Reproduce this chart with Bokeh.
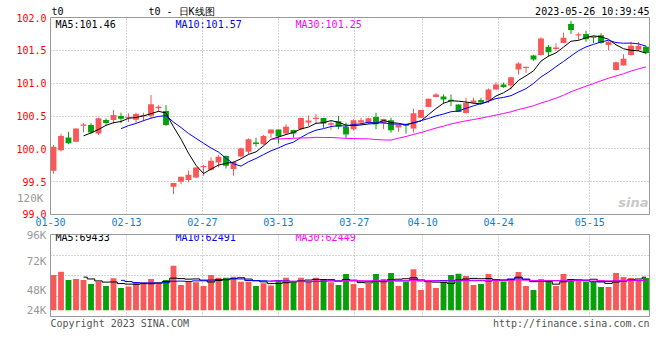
import numpy as np
import pandas as pd
from bokeh.plotting import figure
from bokeh.layouts import column
from bokeh.models import Range1d, FixedTicker, Label, ColumnDataSource, PrintfTickFormatter, LinearAxis
from bokeh.embed import file_html
from bokeh.resources import INLINE

# ---------------- data ----------------
tick_labels = ["01-30", "02-13", "02-27", "03-13", "03-27", "04-10", "04-24", "05-15"]
tick_index = [0, 10, 20, 30, 40, 49, 59, 71]

open_ = [99.667, 99.98, 100.171, 100.106, 100.36, 100.364, 100.232, 100.44, 100.44, 100.50,
         100.48, 100.444, 100.50, 100.505, 100.617, 100.576, 99.424, 99.50, 99.526, 99.565,
         99.72, 99.682, 99.79, 99.89, 99.692, 99.883, 99.955, 100.095, 100.07, 100.232,
         100.293, 100.232, 100.288, 100.298, 100.40, 100.455, 100.47, 100.368, 100.42, 100.338,
         100.298, 100.40, 100.40, 100.485, 100.384, 100.435, 100.323, 100.374, 100.308, 100.474,
         100.636, 100.788, 100.798, 100.747, 100.677, 100.545, 100.702, 100.742, 100.737, 100.904,
         100.98, 100.965, 101.207, 101.23, 101.42, 101.43, 101.555, 101.52, 101.61, 101.90,
         101.735, 101.75, 101.71, 101.73, 101.58, 101.20, 101.27, 101.43, 101.51, 101.555]
high = [100.06, 100.23, 100.26, 100.31, 100.39, 100.39, 100.474, 100.465, 100.59, 100.55,
        100.54, 100.55, 100.55, 100.82, 100.667, 100.667, 99.48, 99.576, 99.667, 99.72,
        99.757, 99.87, 99.905, 99.90, 99.81, 100.02, 100.16, 100.17, 100.21, 100.293,
        100.293, 100.374, 100.288, 100.47, 100.51, 100.53, 100.47, 100.42, 100.50, 100.40,
        100.45, 100.474, 100.474, 100.55, 100.455, 100.474, 100.37, 100.38, 100.61, 100.59,
        100.763, 100.848, 100.828, 100.828, 100.677, 100.778, 100.778, 100.778, 100.919, 101.015,
        101.01, 101.09, 101.32, 101.25, 101.43, 101.697, 101.58, 101.61, 101.77, 101.95,
        101.77, 101.80, 101.71, 101.76, 101.64, 101.33, 101.44, 101.63, 101.63, 101.57]
low = [99.62, 99.96, 100.07, 100.10, 100.25, 100.23, 100.208, 100.36, 100.383, 100.39,
       100.41, 100.40, 100.42, 100.46, 100.56, 100.35, 99.31, 99.46, 99.49, 99.556,
       99.59, 99.667, 99.717, 99.70, 99.59, 99.87, 99.92, 100.035, 100.06, 100.17,
       100.08, 100.22, 100.17, 100.283, 100.35, 100.38, 100.32, 100.29, 100.30, 100.156,
       100.28, 100.374, 100.374, 100.30, 100.30, 100.247, 100.26, 100.232, 100.247, 100.47,
       100.636, 100.788, 100.687, 100.65, 100.56, 100.535, 100.687, 100.672, 100.697, 100.904,
       100.93, 100.904, 101.13, 101.157, 101.34, 101.42, 101.40, 101.495, 101.61, 101.75,
       101.66, 101.63, 101.61, 101.60, 101.50, 101.19, 101.27, 101.42, 101.49, 101.44]
close = [100.03, 100.197, 100.086, 100.308, 100.37, 100.247, 100.465, 100.394, 100.515, 100.46,
         100.49, 100.53, 100.515, 100.68, 100.64, 100.364, 99.48, 99.576, 99.606, 99.717,
         99.74, 99.818, 99.88, 99.742, 99.80, 100.005, 100.147, 100.076, 100.197, 100.293,
         100.186, 100.338, 100.232, 100.47, 100.43, 100.475, 100.384, 100.39, 100.338, 100.22,
         100.435, 100.435, 100.465, 100.374, 100.455, 100.283, 100.364, 100.35, 100.54, 100.59,
         100.763, 100.828, 100.752, 100.727, 100.56, 100.697, 100.737, 100.707, 100.904, 100.98,
         100.94, 101.09, 101.30, 101.25, 101.36, 101.68, 101.47, 101.545, 101.69, 101.81,
         101.745, 101.67, 101.69, 101.61, 101.63, 101.32, 101.37, 101.57, 101.57, 101.46]
volume = [73830, 80730, 63480, 65550, 63480, 55200, 60030, 51060, 66930, 46920,
          49680, 57960, 57960, 65550, 56580, 63480, 93150, 53130, 60030, 58650,
          51060, 73830, 68310, 68310, 70380, 60030, 60030, 51060, 56580, 51750,
          61410, 68310, 58650, 68310, 60030, 68310, 65550, 58650, 53130, 75900,
          55200, 46920, 55200, 75900, 65550, 77970, 51060, 60030, 86250, 42780,
          58650, 46920, 58650, 73830, 76590, 71760, 53130, 55200, 75900, 65550,
          60030, 65550, 80040, 51060, 42780, 65550, 63480, 51060, 75900, 65550,
          63480, 60030, 60030, 48990, 48990, 77970, 69690, 67620, 63480, 67620]

title_text = "t0 - 日K线图"
symbol_text = "t0"
time_text = "2023-05-26 10:39:45"
price_ma_texts = ["MA5:101.46", "MA10:101.57", "MA30:101.25"]
vol_ma_texts = ["MA5:69433", "MA10:62491", "MA30:62449"]
price_ticks = [99.0, 99.5, 100.0, 100.5, 101.0, 101.5, 102.0]
vol_tick_labels = ["96K", "72K", "48K", "24K"]
vol_extra_label = "120K"
copyright_text = "Copyright 2023 SINA.COM"
url_text = "http://finance.sina.com.cn"

# ---------------- styling ----------------
RED = "#f95858"
GREEN = "#08a008"
MA_COLORS = ["#000000", "#0000ff", "#ff00ff"]
GRID = "#a8a8a8"
MONO = "DejaVu Sans Mono"

n = len(close)
xs = np.arange(n)
o = np.array(open_); c = np.array(close); h = np.array(high); lo = np.array(low)
up = c >= o
colors = np.where(up, RED, GREEN)
btop = np.maximum(o, c)
bbot = np.minimum(np.minimum(o, c), btop - 0.02)
cs = pd.Series(c)
vs = pd.Series(np.array(volume, dtype=float))

src = ColumnDataSource(dict(
    x=xs, top=btop, bottom=bbot, high=h, low=lo, color=colors,
    ma5=cs.rolling(5).mean().values, ma10=cs.rolling(10).mean().values, ma30=cs.rolling(30).mean().values,
    vol=vs.values, vma5=vs.rolling(5).mean().values, vma10=vs.rolling(10).mean().values,
    vma30=vs.rolling(30).mean().values,
))

# frame geometry: 599 px wide frame, one slot = 7.5 px
FRAME_L, FRAME_W = 50, 599
X0 = -0.4
PX = 7.5
x_range = Range1d(X0, X0 + FRAME_W / PX)
def px_to_x(px):
    return round(X0 + (px - FRAME_L) / PX, 3)

# date grid is spread over the frame with (n-1) spacing, as in the source chart
xt = [round(i * n / (n - 1) + X0, 3) for i in tick_index]

WIDTH = 652
common = dict(width=WIDTH, output_backend="svg", toolbar_location=None,
              min_border_left=FRAME_L, min_border_right=WIDTH - FRAME_L - FRAME_W,
              background_fill_color="white", border_fill_color="white")

def plain_axis(ax):
    ax.axis_line_color = None
    ax.major_tick_out = 0
    ax.major_tick_in = 0
    ax.minor_tick_out = 0
    ax.minor_tick_in = 0

def dotted(p):
    for g in (p.xgrid, p.ygrid):
        g.grid_line_color = GRID
        g.grid_line_dash = "1 2"
        g.grid_line_width = 1

def lab(p, x, y, text, color="#000000", font=MONO, size="10px", align="left", style="normal"):
    p.add_layout(Label(x=x, y=y, x_units="screen", y_units="screen", text=text,
                       text_color=color, text_font=font, text_font_size=size,
                       text_align=align, text_baseline="middle", text_font_style=style))

# ---------------- price panel ----------------
p1 = figure(height=228, x_range=x_range, y_range=Range1d(98.9999, 102.0001),
            min_border_top=17, min_border_bottom=14, **common)
p1.outline_line_color = "#999999"
p1.outline_line_width = 1

p1.segment(x0="x", y0="low", x1="x", y1="high", color="color", line_width=1, source=src)
p1.vbar(x="x", top="top", bottom="bottom", width=0.78, fill_color="color", line_color=None, source=src)
for key, col in zip(["ma5", "ma10", "ma30"], MA_COLORS):
    p1.line("x", key, color=col, line_width=1, source=src)

p1.yaxis.ticker = FixedTicker(ticks=price_ticks)
p1.yaxis.formatter = PrintfTickFormatter(format="%.1f")
p1.yaxis.major_label_text_color = "#ff0000"
p1.yaxis.major_label_text_font = MONO
p1.yaxis.major_label_text_font_size = "10px"
p1.yaxis.major_label_standoff = 4
# the volume panel's top label sits in the price panel's margin (raised by two empty lines)
p1.yaxis.axis_label = vol_extra_label + "\n\n"
p1.yaxis.axis_label_orientation = "horizontal"
p1.yaxis.axis_label_align = "start"
p1.yaxis.axis_label_standoff = -30
p1.yaxis.axis_label_text_color = "#999999"
p1.yaxis.axis_label_text_font = MONO
p1.yaxis.axis_label_text_font_size = "11px"
p1.yaxis.axis_label_text_font_style = "normal"

p1.xaxis.ticker = FixedTicker(ticks=xt)
p1.xaxis.major_label_overrides = {t: s for t, s in zip(xt, tick_labels)}
p1.xaxis.major_label_text_color = "#0a7fd8"
p1.xaxis.major_label_text_font = MONO
p1.xaxis.major_label_text_font_size = "10px"
p1.xaxis.major_label_standoff = 3
plain_axis(p1.xaxis); plain_axis(p1.yaxis)

# header row (symbol, title, time) as labels of an axis above the frame
CW = 6.02  # advance of a 10px monospace glyph
head_texts = [symbol_text, title_text, time_text]
head_centers = [px_to_x(51 + len(symbol_text) * CW / 2),
                px_to_x(140 + 41),
                px_to_x(FRAME_L + FRAME_W - len(time_text) * CW / 2)]
top_ax = LinearAxis(ticker=FixedTicker(ticks=head_centers),
                    major_label_overrides={t: s for t, s in zip(head_centers, head_texts)})
top_ax.major_label_text_font = MONO
top_ax.major_label_text_font_size = "10px"
top_ax.major_label_text_color = "#000000"
top_ax.major_label_standoff = 1
plain_axis(top_ax)
p1.add_layout(top_ax, "above")

p1.ygrid.ticker = FixedTicker(ticks=price_ticks[1:-1])
p1.xgrid.ticker = FixedTicker(ticks=xt[1:])
dotted(p1)

for t, col, xx in zip(price_ma_texts, MA_COLORS, [5, 125, 245]):
    lab(p1, xx, 190.5, t, color=col)
lab(p1, 598, 12, "sina", color="#c8c8c8", font="DejaVu Sans", size="13px", align="right", style="bold italic")

# ---------------- volume panel ----------------
v_start, v_end = -13000, 158800
p2 = figure(height=103, x_range=x_range, y_range=Range1d(v_start, v_end),
            min_border_top=6, min_border_bottom=14, x_axis_location=None, **common)
p2.outline_line_color = "#999999"
p2.outline_line_width = 1
p2.vbar(x="x", top="vol", bottom=0, width=0.78, fill_color="color", line_color=None, source=src)
for key, col in zip(["vma5", "vma10", "vma30"], MA_COLORS):
    p2.step("x", key, color=col, line_width=1, mode="center", source=src)

vt = [158500, 101400, 41400, 0]
p2.yaxis.ticker = FixedTicker(ticks=vt)
p2.yaxis.major_label_overrides = {t: s for t, s in zip(vt, vol_tick_labels)}
p2.yaxis.major_label_text_color = "#999999"
p2.yaxis.major_label_text_font = MONO
p2.yaxis.major_label_text_font_size = "11px"
p2.yaxis.major_label_standoff = 4
plain_axis(p2.yaxis)

# footer row as labels of an axis below the frame
foot_texts = [copyright_text, url_text]
foot_centers = [px_to_x(FRAME_L + len(copyright_text) * CW / 2),
                px_to_x(FRAME_L + FRAME_W - len(url_text) * CW / 2)]
bot_ax = LinearAxis(ticker=FixedTicker(ticks=foot_centers),
                    major_label_overrides={t: s for t, s in zip(foot_centers, foot_texts)})
bot_ax.major_label_text_font = MONO
bot_ax.major_label_text_font_size = "10px"
bot_ax.major_label_text_color = "#555555"
bot_ax.major_label_standoff = 1
plain_axis(bot_ax)
p2.add_layout(bot_ax, "below")

p2.ygrid.ticker = FixedTicker(ticks=[v_start + (v_end - v_start) * k / 4 for k in (1, 2, 3)])
p2.xgrid.ticker = FixedTicker(ticks=xt[1:])
dotted(p2)

for t, col, xx in zip(vol_ma_texts, MA_COLORS, [5, 125, 245]):
    lab(p2, xx, 78.7, t, color=col)

layout = column(p1, p2, spacing=0)
open("out.html", "w").write(file_html(layout, INLINE))
